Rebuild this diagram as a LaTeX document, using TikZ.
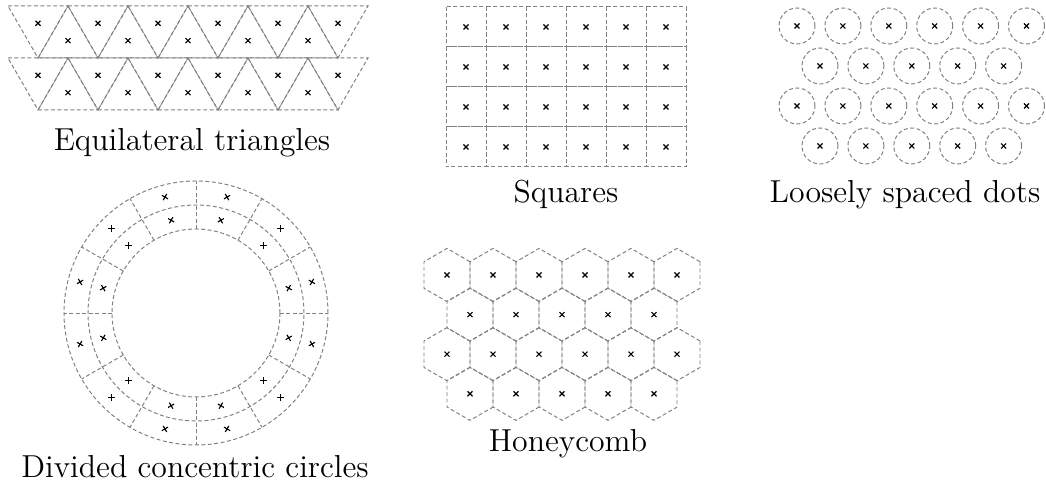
\documentclass[tikz,border=0pt]{standalone}
\usepackage{fontspec}
\usepackage{tikz}
\tikzset{
  cellline/.style={draw=black!50, line width=0.35pt, dash pattern=on 1.4pt off 0.9pt},
  xmark/.pic={\draw[black, line width=0.4pt] (-2.5,-2.5) -- (2.5,2.5) (-2.5,2.5) -- (2.5,-2.5);},
  caption/.style={font=\fontsize{11.3}{13.5}\selectfont, anchor=base, inner sep=0pt},
}
\begin{document}
\begin{tikzpicture}[x=0.0125cm,y=0.0125cm]
  \useasboundingbox (0,0) rectangle (1046,487);
  % equilateral triangles, two strips
  \foreach \yy in {481,429} {
    \foreach \k in {0,...,5} {
      \pgfmathsetmacro{\cx}{38+60*\k}
      \draw[cellline] (\cx-30,\yy) -- (\cx+30,\yy) -- (\cx,\yy-52) -- cycle;
      \pic at (\cx,\yy-17.3) {xmark};
    }
    \foreach \k in {0,...,4} {
      \pgfmathsetmacro{\cx}{68+60*\k}
      \draw[cellline] (\cx-30,\yy-52) -- (\cx+30,\yy-52) -- (\cx,\yy) -- cycle;
      \pic at (\cx,\yy-34.7) {xmark};
    }
  }
  \node[caption] (lbltri) at (192,336) {Equilateral triangles};
  % squares
  \foreach \i in {0,...,5} \foreach \j in {0,...,3} {
    \draw[cellline] (446+40*\i,480-40*\j) rectangle ++(40,-40);
    \pic at (466+40*\i,460-40*\j) {xmark};
  }
  \node[caption] (lblsq) at (566,284) {Squares};
  % loosely spaced dots
  \foreach \yy/\xa/\n in {461/797/5, 421/820/4, 381/797/5, 341/820/4} {
    \foreach \k in {0,...,\n} {
      \draw[cellline] (\xa+45.9*\k,\yy) circle[radius=18];
      \pic at (\xa+45.9*\k,\yy) {xmark};
    }
  }
  \node[caption] (lbldots) at (905,284) {Loosely spaced dots};
  % divided concentric circles
  \begin{scope}[shift={(196,174)}]
    \foreach \r in {84,108,132} \draw[cellline] (0,0) circle[radius=\r];
    \foreach \a in {0,30,...,330} \draw[cellline] (\a:84) -- (\a:132);
    \foreach \a in {15,45,...,345} {
      \pic[rotate=\a] at (\a:96) {xmark};
      \pic[rotate=\a] at (\a:120) {xmark};
    }
  \end{scope}
  \node[caption] (lblcirc) at (195,9) {Divided concentric circles};
  % honeycomb
  \def\hr{26.56}
  \foreach \yy/\xa/\n in {212/447/5, 172.4/470/4, 132.8/447/5, 93.2/470/4} {
    \foreach \k in {0,...,\n} {
      \begin{scope}[shift={(\xa+46*\k,\yy)}]
        \draw[cellline] (30:\hr) -- (90:\hr) -- (150:\hr) -- (210:\hr) -- (270:\hr) -- (330:\hr) -- cycle;
        \pic at (0,0) {xmark};
      \end{scope}
    }
  }
  \node[caption] (lblhex) at (568,35) {Honeycomb};
\end{tikzpicture}
\end{document}
